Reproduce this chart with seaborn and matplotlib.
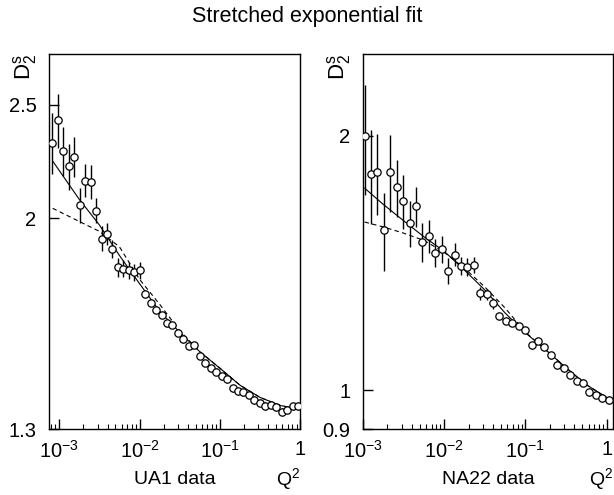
import matplotlib
matplotlib.use("Agg")
import matplotlib.pyplot as plt
import matplotlib.ticker as mticker
import seaborn as sns
import pandas as pd

# ==========================================
# DATA
# ==========================================

# UA1 data points
ua1_q = [8.24e-4, 9.64e-4, 1.127e-3, 1.318e-3, 1.542e-3, 1.80e-3, 2.10e-3, 2.46e-3,
         2.88e-3, 3.37e-3, 3.94e-3, 4.60e-3, 5.38e-3, 6.29e-3, 7.36e-3, 8.59e-3,
         1.005e-2, 1.175e-2, 1.374e-2, 1.607e-2, 1.879e-2, 2.20e-2, 2.57e-2, 3.01e-2,
         3.52e-2, 4.10e-2, 4.80e-2, 5.61e-2, 6.56e-2, 7.67e-2, 8.97e-2, 0.105,
         0.123, 0.144, 0.168, 0.196, 0.229, 0.268, 0.313, 0.366,
         0.428, 0.501, 0.586, 0.685, 0.802, 0.936]
ua1_d = [2.320, 2.424, 2.284, 2.216, 2.258, 2.054, 2.154, 2.149,
         2.031, 1.922, 1.941, 1.883, 1.817, 1.812, 1.806, 1.800,
         1.806, 1.726, 1.695, 1.672, 1.655, 1.628, 1.622, 1.598,
         1.578, 1.558, 1.560, 1.527, 1.506, 1.491, 1.481, 1.468,
         1.459, 1.433, 1.425, 1.422, 1.415, 1.401, 1.394, 1.385,
         1.387, 1.381, 1.369, 1.375, 1.384, 1.385]
ua1_err = [0.14, 0.13, 0.11, 0.10, 0.09, 0.07, 0.07, 0.07,
           0.05, 0.047, 0.043, 0.033, 0.035, 0.03, 0.03, 0.03,
           0.03, 0.012, 0.01, 0.01, 0.01, 0.01, 0.01, 0.01,
           0.01, 0.01, 0.01, 0.01, 0.01, 0.01, 0.01, 0.01,
           0.01, 0.01, 0.01, 0.01, 0.01, 0.01, 0.01, 0.01,
           0.01, 0.01, 0.01, 0.01, 0.01, 0.01]

# UA1 fit curves
ua1_fit_q = [8.3e-4, 1.78e-3, 3.16e-3, 5.62e-3, 1.0e-2, 1.78e-2, 3.16e-2,
             5.62e-2, 0.1, 0.178, 0.316, 0.562, 1.0]
ua1_fit_solid = [2.238, 2.076, 1.975, 1.860, 1.760, 1.667, 1.600,
                 1.540, 1.491, 1.442, 1.408, 1.386, 1.375]
ua1_fit_dashed = [2.040, 1.988, 1.950, 1.892, 1.775, 1.690, 1.605,
                  1.540, 1.491, 1.442, 1.408, 1.386, 1.375]

# NA22 data points
na22_q = [1.050e-3, 1.259e-3, 1.510e-3, 1.811e-3, 2.17e-3, 2.61e-3, 3.13e-3, 3.76e-3,
          4.51e-3, 5.41e-3, 6.49e-3, 7.78e-3, 9.33e-3, 1.119e-2, 1.343e-2, 1.611e-2,
          1.932e-2, 2.32e-2, 2.78e-2, 3.33e-2, 4.00e-2, 4.80e-2, 5.75e-2, 6.90e-2,
          8.28e-2, 9.93e-2, 0.119, 0.143, 0.171, 0.206, 0.247, 0.296,
          0.355, 0.426, 0.512, 0.614, 0.736, 0.883, 1.059]
na22_d = [2.000, 1.804, 1.811, 1.550, 1.815, 1.739, 1.675, 1.576,
          1.651, 1.497, 1.523, 1.455, 1.470, 1.385, 1.448, 1.403,
          1.400, 1.408, 1.303, 1.299, 1.268, 1.225, 1.209, 1.203,
          1.192, 1.178, 1.131, 1.145, 1.126, 1.100, 1.073, 1.063,
          1.044, 1.027, 1.021, 0.995, 0.989, 0.979, 0.974]
na22_err = [0.295, 0.23, 0.20, 0.164, 0.19, 0.136, 0.122, 0.10,
            0.09, 0.08, 0.068, 0.055, 0.054, 0.048, 0.045, 0.035,
            0.035, 0.03, 0.022, 0.02, 0.018, 0.01, 0.01, 0.01,
            0.01, 0.01, 0.01, 0.01, 0.01, 0.01, 0.01, 0.01,
            0.01, 0.01, 0.01, 0.01, 0.01, 0.01, 0.01]

# NA22 fit curves
na22_fit_q = [1.05e-3, 1.78e-3, 3.16e-3, 5.62e-3, 1.0e-2, 1.78e-2, 3.16e-2,
              5.62e-2, 0.1, 0.178, 0.316, 0.562, 1.0, 1.17]
na22_fit_solid = [1.735, 1.660, 1.588, 1.520, 1.461, 1.388, 1.315,
                  1.235, 1.170, 1.117, 1.064, 1.016, 0.981, 0.971]
na22_fit_dashed = [1.582, 1.561, 1.535, 1.505, 1.457, 1.395, 1.326,
                   1.252, 1.172, 1.117, 1.064, 1.016, 0.981, 0.971]

# axis settings per panel
panels = [
    {"name": "UA1 data", "q": ua1_q, "d": ua1_d, "err": ua1_err,
     "fq": ua1_fit_q, "solid": ua1_fit_solid, "dashed": ua1_fit_dashed,
     "xlim": (7.5e-4, 1.0), "ylim": (1.323, 2.761),
     "yticks": [1.323, 2, 2.5], "ylabels": ["1.3", "2", "2.5"],
     "rect": [0.080, 0.133, 0.409, 0.758]},
    {"name": "NA22 data", "q": na22_q, "d": na22_d, "err": na22_err,
     "fq": na22_fit_q, "solid": na22_fit_solid, "dashed": na22_fit_dashed,
     "xlim": (1.0e-3, 1.19), "ylim": (0.9, 2.5),
     "yticks": [0.9, 1, 2], "ylabels": ["0.9", "1", "2"],
     "rect": [0.591, 0.133, 0.407, 0.758]},
]

xticks = [1e-3, 1e-2, 1e-1, 1]
xlabels = ["$10^{-3}$", "$10^{-2}$", "$10^{-1}$", "1"]

# ==========================================
# STYLE
# ==========================================

sns.set_style("white")
plt.rcParams["font.family"] = ["Liberation Sans", "DejaVu Sans"]
plt.rcParams["mathtext.fontset"] = "custom"
plt.rcParams["mathtext.rm"] = "Liberation Sans"
plt.rcParams["mathtext.it"] = "Liberation Sans"
plt.rcParams["mathtext.default"] = "regular"
plt.rcParams["text.color"] = "black"

fig = plt.figure(figsize=(6.14, 4.95), dpi=100)
fig.suptitle("Stretched exponential fit", fontsize=15.5, y=0.966, va="center",
             color="black")

# ==========================================
# PANELS
# ==========================================

for p in panels:
    ax = fig.add_axes(p["rect"])

    fit_df = pd.DataFrame({"q": p["fq"], "solid": p["solid"], "dashed": p["dashed"]})
    pts_df = pd.DataFrame({"q": p["q"], "d": p["d"]})

    sns.lineplot(data=fit_df, x="q", y="dashed", ax=ax, color="black",
                 linewidth=0.8, dashes=False, linestyle=(0, (4, 3)))
    sns.lineplot(data=fit_df, x="q", y="solid", ax=ax, color="black", linewidth=0.8)

    ax.errorbar(p["q"], p["d"], yerr=p["err"], fmt="none", ecolor="black",
                elinewidth=1.0, capsize=0, zorder=3)
    sns.scatterplot(data=pts_df, x="q", y="d", ax=ax, marker="o", s=28,
                    facecolor="white", edgecolor="black", linewidth=0.9, zorder=4)

    ax.set_xscale("log")
    ax.set_yscale("log")
    ax.set_xlim(p["xlim"])
    ax.set_ylim(p["ylim"])

    ax.xaxis.set_major_locator(mticker.FixedLocator(xticks))
    ax.xaxis.set_major_formatter(mticker.FixedFormatter(xlabels))
    ax.xaxis.set_minor_locator(mticker.LogLocator(base=10, subs=range(2, 10)))
    ax.xaxis.set_minor_formatter(mticker.NullFormatter())

    ax.yaxis.set_major_locator(mticker.FixedLocator(p["yticks"]))
    ax.yaxis.set_major_formatter(mticker.FixedFormatter(p["ylabels"]))
    ax.yaxis.set_minor_locator(mticker.NullLocator())

    ax.tick_params(axis="both", which="both", direction="in", colors="black",
                   bottom=True, left=True, top=False, right=False)
    ax.tick_params(axis="x", which="major", length=7, width=1, pad=8, labelsize=14.5)
    ax.tick_params(axis="x", which="minor", length=3.5, width=0.8)
    ax.tick_params(axis="y", which="major", length=7, width=1, pad=9, labelsize=14.5)

    for s in ax.spines.values():
        s.set_color("black")
        s.set_linewidth(1.0)

    ax.set_xlabel("")
    ax.set_ylabel("")

    ax.text(0.5, -0.133, p["name"], transform=ax.transAxes, ha="center",
            va="center", fontsize=14, color="black")
    ax.text(1.0, -0.133, "$Q^2$", transform=ax.transAxes, ha="right",
            va="center", fontsize=14, color="black")
    ax.text(-0.095, 1.0, "$D_2^s$", transform=ax.transAxes, ha="center",
            va="top", rotation=90, fontsize=16, color="black")

fig.savefig("out.png", dpi=100)
